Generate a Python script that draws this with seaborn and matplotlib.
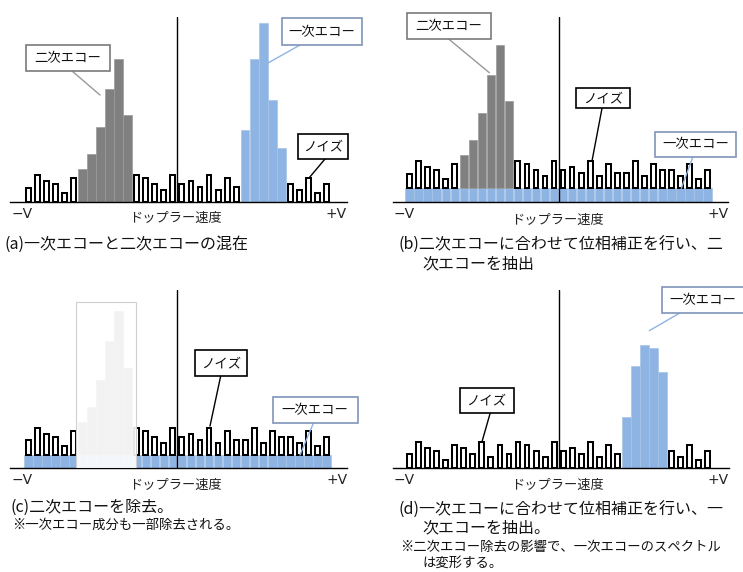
import matplotlib
matplotlib.use("Agg")
import matplotlib.pyplot as plt
from matplotlib.patches import Rectangle
import pandas as pd
import seaborn as sns

sns.set_theme(style="white")
plt.rcParams["font.family"] = ["Noto Sans CJK JP", "DejaVu Sans"]

W, H = 743, 572

# Doppler bins (34 bins from -V to +V)
positions = list(range(34))
noise = [4.3, 8.0, 6.2, 5.3, 2.6, 7.1, 6.2, 4.4, 8.0, 3.5, 7.1, 4.4,
         8.0, 7.1, 5.3, 3.5, 8.0, 5.3, 6.2, 4.4, 8.0, 3.5, 7.1, 4.4,
         4.4, 8.0, 3.5, 7.1, 5.3, 5.3, 3.5, 7.1, 2.6, 5.3]
echo2_pos = [6, 7, 8, 9, 10, 11]
echo2 = [9.8, 14.3, 22.4, 34.0, 43.0, 26.0]
echo1_pos = [24, 25, 26, 27, 28]
echo1 = [21.5, 43.0, 53.8, 30.5, 16.2]
echo1_after = [15.5, 30.7, 37.0, 36.0, 28.8]
leak_level = 4.1

axis_left, axis_right, axis_title = "−V", "+V", "ドップラー速度"
label_echo1, label_echo2, label_noise = "一次エコー", "二次エコー", "ノイズ"

GRAY = "#808080"
BLUE = "#8EB4E3"
BOX_BLUE = "#7F95B8"

fig = plt.figure(figsize=(W / 100, H / 100), dpi=100)


def px_axes(left, top, right, bottom, xlim, ylim):
    ax = fig.add_axes([left / W, 1 - bottom / H, (right - left) / W, (bottom - top) / H])
    ax.patch.set_alpha(0)
    return ax, xlim, ylim


def draw_bars(ax, pos, vals, kind, bottom=0.0):
    df = pd.DataFrame({"pos": pos, "val": vals})
    if kind == "noise":
        style = dict(width=0.54, facecolor="white", edgecolor="black", linewidth=1.45)
    elif kind == "echo2":
        style = dict(width=0.94, facecolor=GRAY, edgecolor="#9a9a9a", linewidth=0.5)
    else:
        style = dict(width=0.94, facecolor=BLUE, edgecolor="#a9c4e6", linewidth=0.5)
    sns.barplot(data=df, x="pos", y="val", order=positions, ax=ax,
                errorbar=None, saturation=1, bottom=bottom, **style)


def finish(ax, xlim, ylim):
    ax.set_xlim(*xlim)
    ax.set_ylim(*ylim)
    ax.set(xlabel="", ylabel="", xticks=[], yticks=[])
    for side in ("top", "right", "left"):
        ax.spines[side].set_visible(False)
    ax.spines["bottom"].set_color("black")
    ax.spines["bottom"].set_linewidth(1.0)
    ax.axvline(16.5, color="black", lw=1.0, zorder=5)


noise_idx = lambda skip: [p for p in positions if p not in skip]
noise_val = lambda skip: [noise[p] for p in positions if p not in skip]

# (a) primary and secondary echoes mixed
ax, xl, yl = px_axes(10, 17, 347, 202, (-2.02, 35.26), (0, 55.5))
draw_bars(ax, noise_idx(echo2_pos + echo1_pos), noise_val(echo2_pos + echo1_pos), "noise")
draw_bars(ax, echo2_pos, echo2, "echo2")
draw_bars(ax, echo1_pos, echo1, "echo1")
finish(ax, xl, yl)

# (b) phase corrected for the secondary echo
ax, xl, yl = px_axes(392.7, 16.7, 728.3, 201.7, (-1.88, 35.32), (0, 55.5))
draw_bars(ax, positions, [leak_level] * len(positions), "echo1")
draw_bars(ax, noise_idx(echo2_pos), noise_val(echo2_pos), "noise", bottom=leak_level)
draw_bars(ax, echo2_pos, echo2, "echo2", bottom=leak_level)
finish(ax, xl, yl)

# (c) secondary echo removed
ax, xl, yl = px_axes(10, 290, 347.3, 468.3, (-2.02, 35.3), (0, 53.5))
draw_bars(ax, positions, [leak_level] * len(positions), "echo1")
draw_bars(ax, noise_idx(echo2_pos), noise_val(echo2_pos), "noise", bottom=leak_level)
draw_bars(ax, echo2_pos, echo2, "echo2", bottom=leak_level)
ax.add_patch(Rectangle((echo2_pos[0] - 0.72, 0), echo2_pos[-1] - echo2_pos[0] + 1.63, 50.0,
                       facecolor="white", alpha=0.9, edgecolor="none", zorder=6))
ax.add_patch(Rectangle((echo2_pos[0] - 0.72, 0), echo2_pos[-1] - echo2_pos[0] + 1.63, 50.0,
                       facecolor="none", edgecolor="#cfcfcf", lw=0.8, zorder=7))
finish(ax, xl, yl)

# (d) phase corrected for the primary echo
ax, xl, yl = px_axes(392.7, 290, 729.3, 468.3, (-1.88, 35.4), (0, 53.5))
draw_bars(ax, noise_idx(echo1_pos), noise_val(echo1_pos), "noise")
draw_bars(ax, echo1_pos, echo1_after, "echo1")
finish(ax, xl, yl)

# annotation layer in pixel coordinates
ov = fig.add_axes([0, 0, 1, 1], zorder=10)
ov.set_xlim(0, W)
ov.set_ylim(H, 0)
ov.axis("off")
ov.patch.set_alpha(0)

FS_AX, FS_BOX, FS_CAP, FS_NOTE = 9.5, 9.6, 11.5, 9.6


def axis_texts(x0, x1, xc, y_v, y_t):
    ov.text(x0, y_v, axis_left, fontsize=FS_AX + 0.5, ha="left", va="center",
            color="#222222", family=["DejaVu Sans"])
    ov.text(x1, y_v, axis_right, fontsize=FS_AX + 0.5, ha="right", va="center",
            color="#222222", family=["DejaVu Sans"])
    ov.text(xc, y_t, axis_title, fontsize=FS_AX, ha="center", va="center", color="#222222")


def callout(box, text, line, edge, line_color):
    x0, y0, x1, y1 = box
    ov.plot([line[0], line[2]], [line[1], line[3]], color=line_color, lw=1.0, zorder=1)
    ov.add_patch(Rectangle((x0, y0), x1 - x0, y1 - y0, facecolor="white",
                           edgecolor=edge, lw=1.2, zorder=2))
    ov.text((x0 + x1) / 2, (y0 + y1) / 2, text, fontsize=FS_BOX, ha="center",
            va="center", color="#111111", zorder=3)


axis_texts(12, 347, 175, 214, 218.5)
axis_texts(394, 729, 557, 214, 220)
axis_texts(12, 348, 175, 480, 485.7)
axis_texts(394, 729, 557, 480, 485.7)

callout((26, 45, 110, 70.7), label_echo2, (72, 71, 100, 95), "#7a7a7a", "#999999")
callout((281.7, 18.3, 361.7, 45), label_echo1, (300, 45, 268, 63), BOX_BLUE, BLUE)
callout((297.7, 134, 348.3, 159.3), label_noise, (325, 159, 309, 178), "black", "black")

callout((407, 13.3, 491, 39), label_echo2, (448.7, 39, 489.3, 72.7), "#7a7a7a", "#999999")
callout((576.3, 88.3, 629.7, 108.3), label_noise, (602, 108.3, 592, 161), "black", "black")
callout((654.7, 131.7, 736.3, 156.7), label_echo1, (693, 156.7, 681.3, 188.3), BOX_BLUE, BLUE)

callout((195, 350, 246.7, 376), label_noise, (220.7, 376, 210, 426), "black", "black")
callout((272.7, 396.7, 357.7, 423.3), label_echo1, (313.3, 423.3, 300, 455), BOX_BLUE, BLUE)

callout((459.7, 387.7, 513.7, 412.7), label_noise, (490.3, 412.7, 482, 441.7), "black", "black")
callout((662, 287, 744, 313), label_echo1, (682, 311.7, 649.3, 330.7), BOX_BLUE, BLUE)

cap = dict(ha="left", va="center", color="#111111")
ov.text(4, 244, "(a)一次エコーと二次エコーの混在", fontsize=FS_CAP, **cap)
ov.text(398.7, 245, "(b)二次エコーに合わせて位相補正を行い、二", fontsize=FS_CAP, **cap)
ov.text(422, 264, "次エコーを抽出", fontsize=FS_CAP, **cap)
ov.text(10, 507, "(c)二次エコーを除去。", fontsize=FS_CAP, **cap)
ov.text(12, 525, "※一次エコー成分も一部除去される。", fontsize=FS_NOTE, **cap)
ov.text(398.7, 510, "(d)一次エコーに合わせて位相補正を行い、一", fontsize=FS_CAP, **cap)
ov.text(422, 528, "次エコーを抽出。", fontsize=FS_CAP, **cap)
ov.text(400, 547, "※二次エコー除去の影響で、一次エコーのスペクトル", fontsize=FS_NOTE, **cap)
ov.text(422, 563, "は変形する。", fontsize=FS_NOTE, **cap)

fig.savefig("out.png", dpi=100, facecolor="white")
